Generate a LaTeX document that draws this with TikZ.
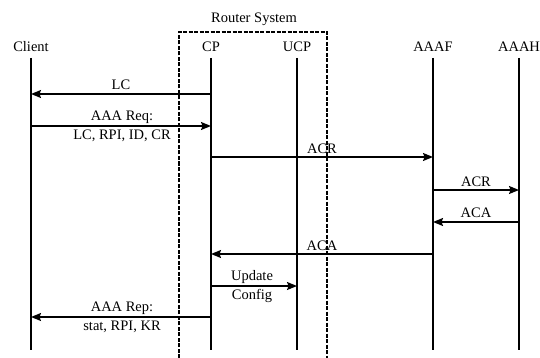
\documentclass[tikz,border=0pt]{standalone}
\usepackage{fontspec}
\setmainfont{Liberation Serif}
\usetikzlibrary{arrows.meta}
\begin{document}
\begin{tikzpicture}[x=1pt,y=-1pt,
  life/.style={line width=1.4pt},
  msg/.style={line width=1.4pt,-{Stealth[length=10pt,width=8pt,inset=1.5pt]}},
  lbl/.style={font=\fontsize{14.5}{16}\selectfont,inner sep=0pt}]
\useasboundingbox (0,0) rectangle (540,358);
\draw[line width=1.3pt,dash pattern=on 4pt off 1.5pt] (179,358) -- (179,32) -- (327,32) -- (327,358);
\node[lbl] (rs) at (254,19) {Router System};
% headers
\node[lbl] (hc) at (31,47) {Client};
\node[lbl] (hcp) at (211,47) {CP};
\node[lbl] (hucp) at (297,47) {UCP};
\node[lbl] (hf) at (433,47) {AAAF};
\node[lbl] (hh) at (519,47) {AAAH};
% lifeline coordinates
\foreach \n/\x in {c/31,cp/211,ucp/297,f/433,h/519}{
  \coordinate (\n-t) at (\x,58);
  \coordinate (\n-b) at (\x,350);
  \draw[life] (\n-t) -- (\n-b);
}
% message end points
\coordinate (m1a) at (211,94);  \coordinate (m1b) at (31,94);
\coordinate (m2a) at (31,126);  \coordinate (m2b) at (211,126);
\coordinate (m3a) at (211,157); \coordinate (m3b) at (433,157);
\coordinate (m4a) at (433,190); \coordinate (m4b) at (519,190);
\coordinate (m5a) at (519,222); \coordinate (m5b) at (433,222);
\coordinate (m6a) at (433,254); \coordinate (m6b) at (211,254);
\coordinate (m7a) at (211,286); \coordinate (m7b) at (297,286);
\coordinate (m8a) at (211,317); \coordinate (m8b) at (31,317);
\draw[msg] (m1a) -- (m1b);
\draw[msg] (m2a) -- (m2b);
\draw[msg] (m3a) -- (m3b);
\draw[msg] (m4a) -- (m4b);
\draw[msg] (m5a) -- (m5b);
\draw[msg] (m6a) -- (m6b);
\draw[msg] (m7a) -- (m7b);
\draw[msg] (m8a) -- (m8b);
% labels
\node[lbl] (l1) at (121,85) {LC};
\node[lbl] (l2a) at (122,117) {AAA Req:};
\node[lbl] (l2b) at (122,136) {LC, RPI, ID, CR};
\node[lbl] (l3) at (322,149) {ACR};
\node[lbl] (l4) at (476,182) {ACR};
\node[lbl] (l5) at (476,213) {ACA};
\node[lbl] (l6) at (322,246) {ACA};
\node[lbl] (l7a) at (252,277) {Update};
\node[lbl] (l7b) at (252,296) {Config};
\node[lbl] (l8a) at (122,308) {AAA Rep:};
\node[lbl] (l8b) at (122,327) {stat, RPI, KR};
\end{tikzpicture}
\end{document}
